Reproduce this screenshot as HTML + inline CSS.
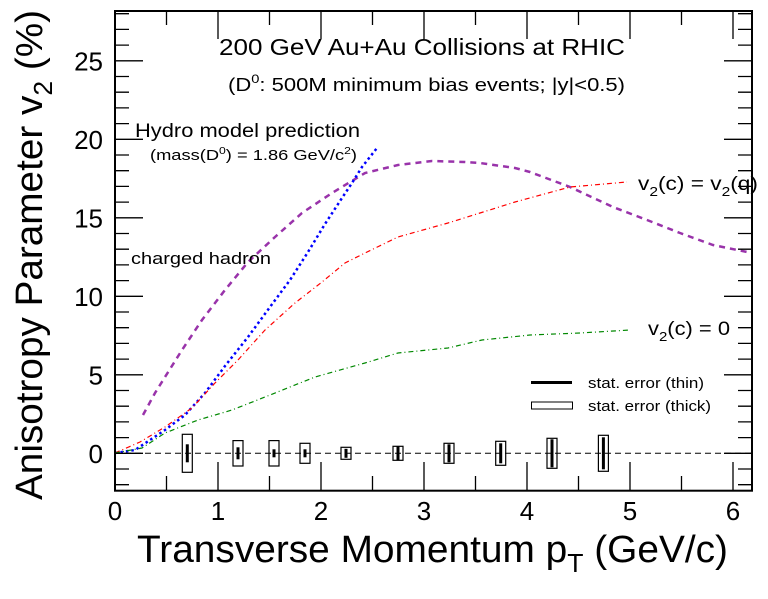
<!DOCTYPE html>
<html><head><meta charset="utf-8"><style>
html,body{margin:0;padding:0;background:#fff;}
svg{display:block;font-family:"Liberation Sans",Arial,sans-serif;}
</style></head><body>
<svg width="768" height="599" viewBox="0 0 768 599" xmlns="http://www.w3.org/2000/svg">
<rect width="768" height="599" fill="#fff"/>
<line x1="115" y1="453.3" x2="752" y2="453.3" stroke="#000" stroke-width="1" stroke-dasharray="6,4"/>
<polyline fill="none" stroke="#9933aa" stroke-width="2.5" stroke-dasharray="6,5" points="143,415 155,393 165,377 182,350 202,320 225,290 248,262 275,237 302,213 332,193 365,173 398,165 432,161 465,162 480,163 515,168 530,172 570,187 613,207 647,220 680,233 713,245 747,252 752,253"/>
<polyline fill="none" stroke="#0000ff" stroke-width="2.5" stroke-dasharray="2.5,3" points="115,453 135,450 165,430 185,415 205,393 225,366 248,337 270,307 290,280 308,252 325,224 342,198 352,183 362,167 377,148"/>
<polyline fill="none" stroke="#ff0000" stroke-width="1.2" stroke-dasharray="5,3,1,3" points="115,453 140,442 165,427 192,408 215,383 238,360 265,330 295,303 322,282 345,263 365,253 398,237 448,223 480,213 515,202 570,187 627,182"/>
<polyline fill="none" stroke="#008800" stroke-width="1.2" stroke-dasharray="5,3,1,3" points="115,453 142,448 165,433 198,420 232,410 265,397 315,377 365,363 398,353 448,348 482,340 530,335 580,333 630,330"/>
<g stroke="#000" stroke-width="1.2" fill="none">
<rect x="182.3" y="434.3" width="10" height="38"/>
<rect x="233" y="440.6" width="10" height="25.4"/>
<rect x="269" y="440.6" width="10" height="25.4"/>
<rect x="300" y="443.3" width="10" height="20"/>
<rect x="341" y="447.3" width="10" height="12"/>
<rect x="393" y="446.3" width="10" height="14"/>
<rect x="444" y="443.3" width="10" height="20"/>
<rect x="495.7" y="441.3" width="10" height="24"/>
<rect x="547" y="438.3" width="10" height="30"/>
<rect x="598.4" y="435.3" width="10" height="36"/>
</g>
<g fill="#000">
<rect x="185.8" y="444.3" width="3" height="18"/>
<rect x="236.5" y="447.3" width="3" height="12"/>
<rect x="272.5" y="449.3" width="3" height="8"/>
<rect x="303.5" y="449.3" width="3" height="8"/>
<rect x="344.5" y="448.8" width="3" height="9"/>
<rect x="396.5" y="446.3" width="3" height="14"/>
<rect x="447.5" y="444.3" width="3" height="18"/>
<rect x="499.2" y="443.3" width="3" height="20"/>
<rect x="550.5" y="439.3" width="3" height="28"/>
<rect x="601.9" y="437.3" width="3" height="32"/>
</g>
<rect x="115" y="11" width="637" height="479.7" fill="none" stroke="#000" stroke-width="2"/>
<g font-size="26" fill="#000" text-anchor="end">
<text x="103" y="463">0</text>
<text x="103" y="384.5">5</text>
<text x="103" y="306">10</text>
<text x="103" y="227.5">15</text>
<text x="103" y="149">20</text>
<text x="103" y="70.5">25</text>
</g>
<g font-size="26" fill="#000" text-anchor="middle">
<text x="115" y="520">0</text>
<text x="218" y="520">1</text>
<text x="321" y="520">2</text>
<text x="424" y="520">3</text>
<text x="527" y="520">4</text>
<text x="630" y="520">5</text>
<text x="733" y="520">6</text>
</g>
<text x="137" y="562" font-size="38" fill="#000" textLength="591" lengthAdjust="spacingAndGlyphs">Transverse Momentum p<tspan font-size="26" dy="10">T</tspan><tspan dy="-10"> (GeV/c)</tspan></text>
<text transform="translate(42,500) rotate(-90)" font-size="38" fill="#000" textLength="490" lengthAdjust="spacingAndGlyphs">Anisotropy Parameter v<tspan font-size="26" dy="10">2</tspan><tspan dy="-10"> (%)</tspan></text>
<text x="219" y="55" font-size="23" textLength="406" lengthAdjust="spacingAndGlyphs">200 GeV Au+Au Collisions at RHIC</text>
<text x="228" y="91" font-size="18" textLength="397" lengthAdjust="spacingAndGlyphs">(D<tspan font-size="12" dy="-8">0</tspan><tspan dy="8">: 500M minimum bias events; |y|&lt;0.5)</tspan></text>
<text x="135" y="137" font-size="19" textLength="225" lengthAdjust="spacingAndGlyphs">Hydro model prediction</text>
<text x="150" y="160" font-size="15" textLength="207" lengthAdjust="spacingAndGlyphs">(mass(D<tspan font-size="10" dy="-6">0</tspan><tspan dy="6">) = 1.86 GeV/c</tspan><tspan font-size="10" dy="-6">2</tspan><tspan dy="6">)</tspan></text>
<text x="131" y="264" font-size="17" textLength="140" lengthAdjust="spacingAndGlyphs">charged hadron</text>
<text x="638" y="190" font-size="19" textLength="120" lengthAdjust="spacingAndGlyphs">v<tspan font-size="13" dy="6">2</tspan><tspan dy="-6">(c) = v</tspan><tspan font-size="13" dy="6">2</tspan><tspan dy="-6">(q)</tspan></text>
<text x="648" y="335" font-size="19" textLength="82" lengthAdjust="spacingAndGlyphs">v<tspan font-size="13" dy="6">2</tspan><tspan dy="-6">(c) = 0</tspan></text>
<line x1="531" y1="382.5" x2="572" y2="382.5" stroke="#000" stroke-width="3"/>
<text x="588" y="388" font-size="15" textLength="116" lengthAdjust="spacingAndGlyphs">stat. error (thin)</text>
<rect x="531.5" y="402" width="41" height="7" fill="none" stroke="#000" stroke-width="1"/>
<text x="588" y="411" font-size="15" textLength="123" lengthAdjust="spacingAndGlyphs">stat. error (thick)</text>
<g stroke="#000" stroke-width="1.3">
<path d="M115 453.3h28M115 437.6h14M115 421.9h14M115 406.2h14M115 390.5h14M115 374.8h28M115 359.1h14M115 343.4h14M115 327.7h14M115 312h14M115 296.3h28M115 280.6h14M115 264.9h14M115 249.2h14M115 233.5h14M115 217.8h28M115 202.1h14M115 186.4h14M115 170.7h14M115 155h14M115 139.3h28M115 123.6h14M115 107.9h14M115 92.2h14M115 76.5h14M115 60.8h28M115 45.1h14M115 29.4h14M115 13.7h14M115 469h14M115 484.7h14"/>
<path d="M752 453.3h-28M752 437.6h-14M752 421.9h-14M752 406.2h-14M752 390.5h-14M752 374.8h-28M752 359.1h-14M752 343.4h-14M752 327.7h-14M752 312h-14M752 296.3h-28M752 280.6h-14M752 264.9h-14M752 249.2h-14M752 233.5h-14M752 217.8h-28M752 202.1h-14M752 186.4h-14M752 170.7h-14M752 155h-14M752 139.3h-28M752 123.6h-14M752 107.9h-14M752 92.2h-14M752 76.5h-14M752 60.8h-28M752 45.1h-14M752 29.4h-14M752 13.7h-14M752 469h-14M752 484.7h-14"/>
<path d="M218 490v-28M321 490v-28M424 490v-28M527 490v-28M630 490v-28M733 490v-28M166.5 490v-14M269.5 490v-14M372.5 490v-14M475.5 490v-14M578.5 490v-14M681.5 490v-14"/>
<path d="M218 11v28M321 11v28M424 11v28M527 11v28M630 11v28M733 11v28M166.5 11v14M269.5 11v14M372.5 11v14M475.5 11v14M578.5 11v14M681.5 11v14"/>
</g>
</svg>
</body></html>
